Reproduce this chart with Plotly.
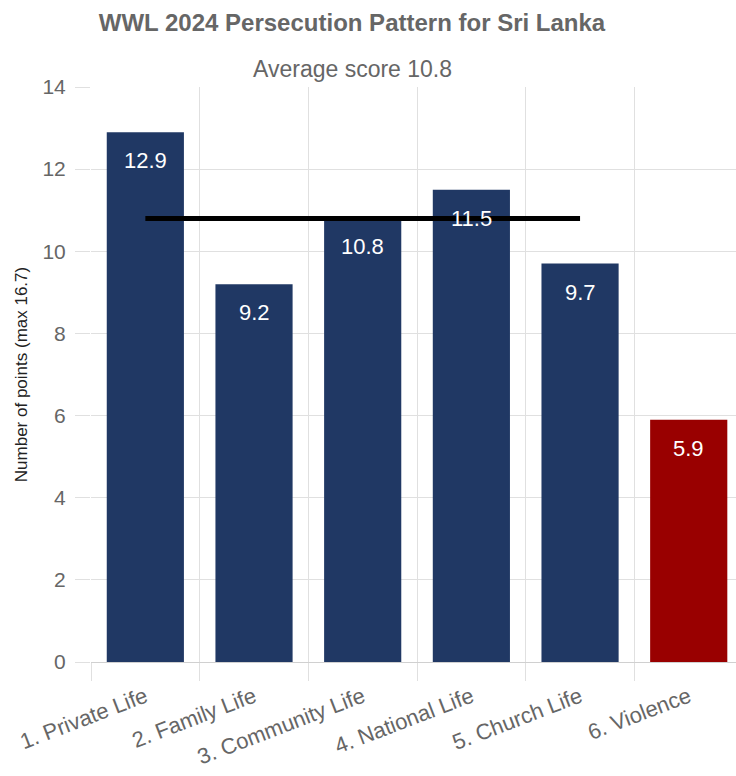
import plotly.graph_objects as go

categories = ["1. Private Life", "2. Family Life", "3. Community Life",
              "4. National Life", "5. Church Life", "6. Violence"]
scores = [12.9, 9.2, 10.8, 11.5, 9.7, 5.9]
bar_colors = ["#203864", "#203864", "#203864", "#203864", "#203864", "#990000"]
average = 10.8
title_text = "WWL 2024 Persecution Pattern for Sri Lanka"
subtitle_text = "Average score 10.8"
y_title = "Number of points (max 16.7)"
y_ticks = [0, 2, 4, 6, 8, 10, 12, 14]

FONT = "Liberation Sans, Arial"

fig = go.Figure()
fig.add_trace(go.Bar(
    x=categories, y=scores, marker_color=bar_colors,
    marker_line_width=0, width=0.71, showlegend=False, hoverinfo="x+y",
))

# average line from first to fifth category
fig.add_shape(type="line", xref="x", yref="y",
              x0=categories[0], x1=categories[4], y0=average, y1=average,
              line=dict(color="black", width=5), layer="above")

for c, v in zip(categories, scores):
    fig.add_annotation(x=c, y=v, xref="x", yref="y", text=f"{v}",
                       showarrow=False, yanchor="top", yshift=-14,
                       font=dict(family=FONT, size=22, color="white"))

fig.add_annotation(xref="paper", yref="paper", x=(352 - 91) / 645, y=1,
                   yanchor="bottom", yshift=3, text=subtitle_text, showarrow=False,
                   font=dict(family=FONT, size=23, color="#666666"))

fig.update_layout(
    width=736, height=776,
    margin=dict(l=91, r=0, t=87, b=114),
    paper_bgcolor="white", plot_bgcolor="white",
    title=dict(text=f"<b>{title_text}</b>", x=352 / 736, xanchor="center",
               y=1 - 23 / 776, yanchor="middle",
               font=dict(family=FONT, size=24, color="#666666")),
    xaxis=dict(
        type="category", range=[-0.5, 5.435], tickson="boundaries",
        ticks="outside", ticklen=18, tickcolor="#e0e0e0",
        showgrid=True, gridcolor="#e0e0e0", gridwidth=1,
        tickangle=-21, showline=False, ticklabelstandoff=17, automargin=False,
        tickfont=dict(family=FONT, size=22, color="#666666"),
    ),
    yaxis=dict(
        range=[0, 14], tickvals=y_ticks, ticks="outside", ticklen=15,
        tickcolor="#e0e0e0", showgrid=True, gridcolor="#e0e0e0",
        zeroline=True, zerolinecolor="#d0d0d0", zerolinewidth=1,
        showline=False, ticklabelstandoff=5, automargin=False,
        tickfont=dict(family=FONT, size=21, color="#666666"),
        title=dict(text=y_title, standoff=10,
                   font=dict(family=FONT, size=17, color="#222222")),
    ),
)

fig.write_html("out.html")
